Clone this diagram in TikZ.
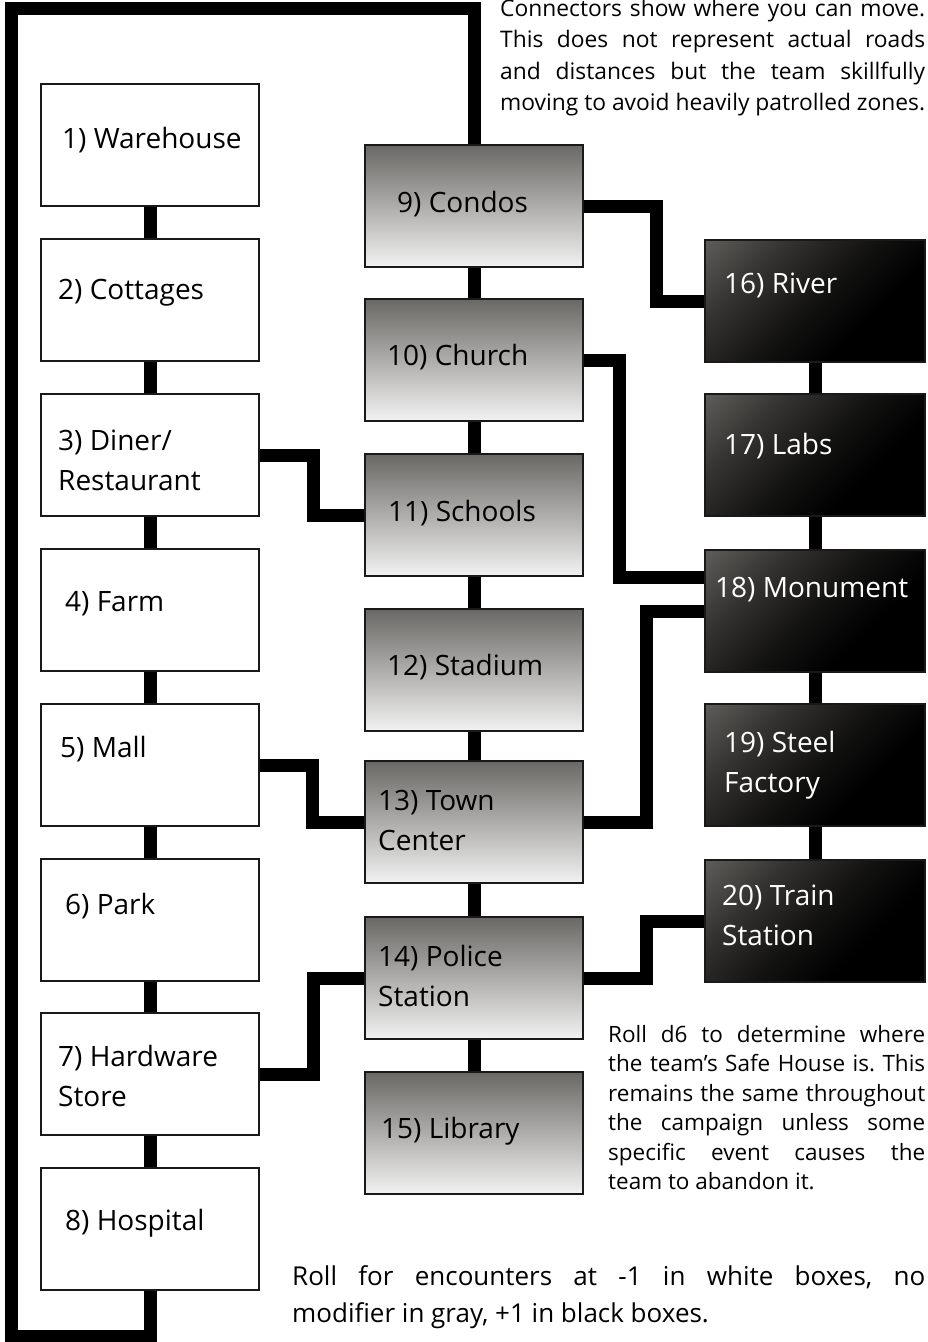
\documentclass[tikz,border=0pt]{standalone}
\usepackage{fontspec}
\setmainfont{Open Sans}
\frenchspacing
\tolerance=10000
\hbadness=10000
\hyphenpenalty=10000
\definecolor{graytop}{RGB}{106,104,100}
\definecolor{graybot}{RGB}{242,242,242}
\definecolor{darktop}{RGB}{94,92,88}
\definecolor{zoneedge}{RGB}{25,25,25}
\pgfdeclareverticalshading{darkfade}{100bp}{color(0bp)=(black); color(35bp)=(black);
  color(50bp)=(black!80!darktop); color(68bp)=(black!45!darktop); color(85bp)=(darktop); color(100bp)=(darktop)}

\begin{document}
\begin{tikzpicture}[x=1pt,y=-1pt,
  road/.style={line width=13pt,black},
  zone/.style={draw=zoneedge,line width=1.5pt,minimum width=218pt,minimum height=122pt,inner sep=0pt},
  whitezone/.style={zone,fill=white},
  grayzone/.style={zone,top color=graytop,bottom color=graybot},
  darkzone/.style={zone,minimum width=220pt,shading=darkfade,shading angle=45},
  zonelabel/.style={anchor=base west,inner sep=0pt,align=left,font=\fontsize{28}{40}\selectfont},
  darklabel/.style={zonelabel,text=white},
  note/.style={anchor=base west,inner sep=0pt,align=justify}]
  \useasboundingbox (0,0) rectangle (927,1342);
  % White column
  \node[whitezone] (b1) at (150,145) {};
  \node[whitezone] (b2) at (150,300) {};
  \node[whitezone] (b3) at (150,455) {};
  \node[whitezone] (b4) at (150,610) {};
  \node[whitezone] (b5) at (150,765) {};
  \node[whitezone] (b6) at (150,920) {};
  \node[whitezone] (b7) at (150,1074) {};
  \node[whitezone] (b8) at (150,1229) {};
  % Gray column
  \node[grayzone] (b9) at (474,206) {};
  \node[grayzone] (b10) at (474,360) {};
  \node[grayzone] (b11) at (474,515) {};
  \node[grayzone] (b12) at (474,670) {};
  \node[grayzone] (b13) at (474,822) {};
  \node[grayzone] (b14) at (474,978) {};
  \node[grayzone] (b15) at (474,1133) {};
  % Black column
  \node[darkzone] (b16) at (815,301) {};
  \node[darkzone] (b17) at (815,455) {};
  \node[darkzone] (b18) at (815,611) {};
  \node[darkzone] (b19) at (815,765) {};
  \node[darkzone] (b20) at (815,921) {};
  % Straight links inside the columns
  \foreach \a/\b in {1/2,2/3,3/4,4/5,5/6,6/7,7/8,9/10,10/11,11/12,12/13,13/14,14/15,16/17,17/18,18/19,19/20}
    \draw[road] (b\a.south) -- (b\b.north);
  % Outer loop
  \draw[road] (b9.north) -- ++(0,-136) -| (11,1336) -| (b8.south);
  % Cross links
  \draw[road] (b3.east) -- ++(54,0) |- (b11.west);
  \draw[road] (b5.east) -- ++(53,0) |- (b13.west);
  \draw[road] (b7.east) -- ++(54,0) |- (b14.west);
  \draw[road] (b9.east) -- ++(73,0) |- (b16.west);
  \draw[road] (b10.east) -- ++(36,0) |- (b18.163);
  \draw[road] (b13.east) -- ++(63,0) |- (b18.west);
  \draw[road] (b14.east) -- ++(63,0) |- (b20.west);
  % Labels (two-line ones sit on their last baseline)
  \node[zonelabel] (t1) at (62,148) {1) Warehouse};
  \node[zonelabel] (t2) at (58,299) {2) Cottages};
  \node[zonelabel] (t3) at (58,490) {3) Diner/\\Restaurant};
  \node[zonelabel] (t4) at (65,611) {4) Farm};
  \node[zonelabel] (t5) at (60,757) {5) Mall};
  \node[zonelabel] (t6) at (65,914) {6) Park};
  \node[zonelabel] (t7) at (58,1106) {7) Hardware\\Store};
  \node[zonelabel] (t8) at (65,1230) {8) Hospital};
  \node[zonelabel] (t9) at (397,212) {9) Condos};
  \node[zonelabel] (t10) at (387,365) {10) Church};
  \node[zonelabel] (t11) at (388,521) {11) Schools};
  \node[zonelabel] (t12) at (387,675) {12) Stadium};
  \node[zonelabel] (t13) at (378,850) {13) Town\\Center};
  \node[zonelabel] (t14) at (378,1006) {14) Police\\Station};
  \node[zonelabel] (t15) at (381,1138) {15) Library};
  \node[darklabel] (t16) at (724,293) {16) River};
  \node[darklabel] (t17) at (724,454) {17) Labs};
  \node[darklabel] (t18) at (715,597) {18) Monument};
  \node[darklabel] (t19) at (724,792) {19) Steel\\Factory};
  \node[darklabel] (t20) at (722,945) {20) Train\\Station};
  % Notes
  \node[note,text width=425pt,font=\fontsize{22.8}{31.5}\selectfont] (movenote) at (500,16)
    {Connectors show where you can move.\linebreak This does not represent actual roads\linebreak and distances but the team skillfully\linebreak moving to avoid heavily patrolled zones.};
  \node[note,text width=317pt,font=\fontsize{22.5}{29.5}\selectfont] (safenote) at (608,1042)
    {Roll d6 to determine where\linebreak the team’s Safe House is. This\linebreak remains the same throughout\linebreak the campaign unless some\linebreak specific event causes the\linebreak team to abandon it.};
  \node[note,text width=633pt,font=\fontsize{26}{37}\selectfont] (rollnote) at (292,1285)
    {Roll for encounters at -1 in white boxes, no\linebreak modifier in gray, +1 in black boxes.};
\end{tikzpicture}
\end{document}
